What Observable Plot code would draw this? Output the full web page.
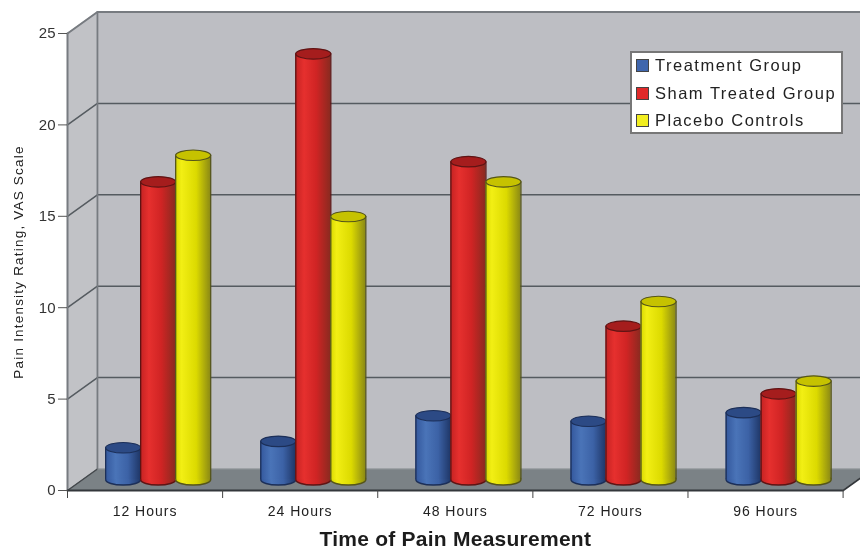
<!DOCTYPE html>
<html>
<head>
<meta charset="utf-8">
<script src="https://cdn.jsdelivr.net/npm/d3@7"></script>
<script src="https://cdn.jsdelivr.net/npm/@observablehq/plot@0.6"></script>
<style>
  html, body { margin: 0; padding: 0; background: #fff; }
  #wrap { position: relative; width: 860px; height: 550px; overflow: hidden; font-family: "Liberation Sans", Arial, sans-serif; }
  #wrap svg { display: block; filter: blur(0.6px); }
  #legend { position: absolute; left: 630px; top: 51px; width: 209px; height: 79px; background: #fff; border: 2px solid #777; filter: blur(0.45px); }
  #legend .row { position: absolute; left: 4px; height: 20px; line-height: 20px; font-size: 16.5px; letter-spacing: 1.5px; color: #222; white-space: nowrap; }
  #legend .sw { display: inline-block; width: 11px; height: 11px; border: 1.5px solid #444; margin-right: 6px; vertical-align: -1px; }
</style>
</head>
<body>
<div id="wrap"></div>
<script>
const categories = ["12 Hours", "24 Hours", "48 Hours", "72 Hours", "96 Hours"];
const treatment = [1.75, 2.1, 3.5, 3.2, 3.67];
const sham = [16.3, 23.3, 17.4, 8.4, 4.7];
const placebo = [17.75, 14.4, 16.3, 9.75, 5.4];
const seriesNames = ["Treatment Group", "Sham Treated Group", "Placebo Controls"];
const seriesValues = [treatment, sham, placebo];
const yTicks = [0, 5, 10, 15, 20, 25];

const depthX = 0.193, depthY = 1.177;   // chart depth, in scale units
const barW = 0.2257;
const styles = [
  {grad: "g0", top: "#2c4a85", edge: "#1c2f58", swatch: "#3f66ad", stops: [["0%","#33579c"],["30%","#4a74b8"],["65%","#3c62a6"],["100%","#1f3768"]]},
  {grad: "g1", top: "#a51d1d", edge: "#5e1414", swatch: "#e02a2a", stops: [["0%","#c42222"],["25%","#e6302e"],["60%","#d02424"],["100%","#8a2a20"]]},
  {grad: "g2", top: "#c6c200", edge: "#55551a", swatch: "#f2ee20", stops: [["0%","#d8d800"],["18%","#f2ef14"],["60%","#dcda00"],["100%","#8c8a14"]]}
];

const ellipse = {
  draw(ctx, size) {
    const rx = Math.sqrt(size / Math.PI), ry = rx * 0.3, k = 0.5523;
    ctx.moveTo(-rx, 0);
    ctx.bezierCurveTo(-rx, -ry * k, -rx * k, -ry, 0, -ry);
    ctx.bezierCurveTo(rx * k, -ry, rx, -ry * k, rx, 0);
    ctx.bezierCurveTo(rx, ry * k, rx * k, ry, 0, ry);
    ctx.bezierCurveTo(-rx * k, ry, -rx, ry * k, -rx, 0);
    ctx.closePath();
  }
};

function defs() {
  const ns = "http://www.w3.org/2000/svg";
  const d = document.createElementNS(ns, "defs");
  for (const s of styles) {
    const g = document.createElementNS(ns, "linearGradient");
    g.setAttribute("id", s.grad);
    for (const [o, c] of s.stops) {
      const st = document.createElementNS(ns, "stop");
      st.setAttribute("offset", o);
      st.setAttribute("stop-color", c);
      g.appendChild(st);
    }
    d.appendChild(g);
  }
  return d;
}

const spaced = px => function (index, scales, values, dimensions, context, next) {
  const g = next(index, scales, values, dimensions, context);
  g.style.letterSpacing = px;
  return g;
};

const backGrid = yTicks.slice(1, -1).map(v => [
  {x: 0, y: v}, {x: depthX, y: v + depthY}, {x: 5 + depthX, y: v + depthY}
]);
const gridMarks = backGrid.map(g => Plot.line(g, {x: "x", y: "y", stroke: "#555b60", strokeWidth: 1.5}));

const cylinderMarks = seriesValues.flatMap((vals, k) => {
  const s = styles[k];
  const rows = vals.map((v, i) => {
    const cx = i + 0.5 + depthX / 2 + (k - 1) * barW - 0.012;
    return {cx, x1: cx - barW / 2, x2: cx + barW / 2, base: depthY / 2, top: v + depthY / 2};
  });
  return [
    Plot.dot(rows, {x: "cx", y: "base", r: 17.5, symbol: ellipse, fill: `url(#${s.grad})`, stroke: s.edge, strokeWidth: 1.4}),
    Plot.rect(rows, {x1: "x1", x2: "x2", y1: "base", y2: "top", fill: `url(#${s.grad})`, inset: 0}),
    Plot.ruleX(rows, {x: "x1", y1: "base", y2: "top", stroke: s.edge, strokeWidth: 1.3}),
    Plot.ruleX(rows, {x: "x2", y1: "base", y2: "top", stroke: s.edge, strokeWidth: 1.3}),
    Plot.dot(rows, {x: "cx", y: "top", r: 17.5, symbol: ellipse, fill: s.top, stroke: s.edge, strokeWidth: 1.2})
  ];
});

const chart = Plot.plot({
  width: 860,
  height: 550,
  marginLeft: 67,
  marginRight: 17.4,
  marginTop: 33,
  marginBottom: 60,
  style: {background: "#fff", fontFamily: "'Liberation Sans', Arial, sans-serif"},
  x: {domain: [0, 5]},
  y: {domain: [0, 25]},
  marks: [
    defs,
    // back wall
    Plot.rect([{x1: depthX, x2: 5 + depthX, y1: depthY, y2: 25 + depthY}], {x1: "x1", x2: "x2", y1: "y1", y2: "y2", fill: "#bdbec3"}),
    // side wall
    Plot.areaY([{x: 0, y1: 0, y2: 25}, {x: depthX, y1: depthY, y2: 25 + depthY}], {x: "x", y1: "y1", y2: "y2", fill: "#c1c2c6"}),
    // floor
    Plot.areaX([{y: 0, x1: 0, x2: 5}, {y: depthY, x1: depthX, x2: 5 + depthX}], {y: "y", x1: "x1", x2: "x2", fill: "#7b8286"}),
    ...gridMarks,
    // frame edges
    Plot.line([{x: 0, y: 25}, {x: depthX, y: 25 + depthY}, {x: 5 + depthX, y: 25 + depthY}], {x: "x", y: "y", stroke: "#777b80", strokeWidth: 2}),
    Plot.line([{x: depthX, y: depthY}, {x: depthX, y: 25 + depthY}], {x: "x", y: "y", stroke: "#777b80", strokeWidth: 1.8}),
    Plot.line([{x: 0, y: 0}, {x: 0, y: 25}], {x: "x", y: "y", stroke: "#777b80", strokeWidth: 2}),
    Plot.line([{x: 0, y: 0}, {x: depthX, y: depthY}], {x: "x", y: "y", stroke: "#44484c", strokeWidth: 1.4}),
    Plot.line([{x: depthX, y: depthY}, {x: 5 + depthX, y: depthY}], {x: "x", y: "y", stroke: "#8f9397", strokeWidth: 1.2}),
    ...cylinderMarks,
    Plot.line([{x: 0, y: 0}, {x: 5, y: 0}, {x: 5 + depthX, y: depthY}], {x: "x", y: "y", stroke: "#33373b", strokeWidth: 1.8}),
    Plot.axisY(yTicks, {tickSize: 9, tickPadding: 3, fontSize: 15, stroke: "#555", color: "#333", label: null}),
    Plot.axisX([0, 1, 2, 3, 4, 5], {tickSize: 8, tickFormat: () => "", stroke: "#444", label: null}),
    Plot.text(categories, {x: (d, i) => i + 0.5, frameAnchor: "bottom", dy: 25, fontSize: 14, fill: "#222", render: spaced("1px")}),
    Plot.text(["Time of Pain Measurement"], {frameAnchor: "bottom", dy: 55, fontSize: 21, fontWeight: "bold", fill: "#1c1c1c", render: spaced("0.25px")}),
    Plot.text(["Pain Intensity Rating, VAS Scale"], {frameAnchor: "left", textAnchor: "middle", rotate: -90, dx: -49, fontSize: 13.5, fill: "#222", render: spaced("1.2px")})
  ]
});

const wrap = document.getElementById("wrap");
wrap.appendChild(chart);

const legend = document.createElement("div");
legend.id = "legend";
seriesNames.forEach((name, k) => {
  const row = document.createElement("div");
  row.className = "row";
  row.style.top = (2 + k * 27.5) + "px";
  const sw = document.createElement("span");
  sw.className = "sw";
  sw.style.background = styles[k].swatch;
  row.appendChild(sw);
  row.appendChild(document.createTextNode(name));
  legend.appendChild(row);
});
wrap.appendChild(legend);
</script>
</body>
</html>
